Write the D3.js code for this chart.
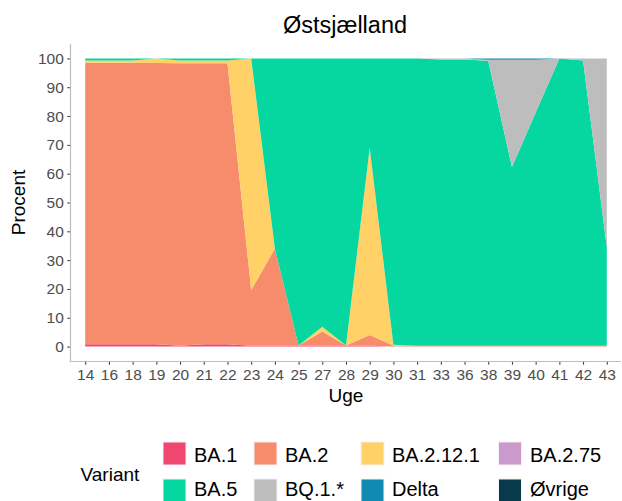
<!DOCTYPE html>
<html>
<head>
<meta charset="utf-8">
<script src="https://cdn.jsdelivr.net/npm/d3@7"></script>
<style>
  body { margin: 0; background: #fff; }
  text { font-family: "Liberation Sans", Arial, sans-serif; }
</style>
</head>
<body>
<div id="chart_variant"></div>
<script>
// week labels (x axis)
var weeks = ["14", "16", "18", "19", "20", "21", "22", "23", "24", "25", "27", "28",
    "29", "30", "31", "33", "36", "38", "39", "40", "41", "42", "43"];

// share in percent per variant, one value per week
var BA1 = [0.8, 0.8, 0.8, 0.8, 0.3, 0.8, 0.8, 0.3, 0.3, 0.3, 0.3, 0.3, 0.3, 0, 0, 0, 0, 0, 0, 0, 0, 0, 0];
var BA2 = [97.7, 97.7, 97.7, 97.6, 98.0, 97.5, 97.5, 19.3, 33.7, 0.1, 4.9, 0.1, 3.7, 0.4, 0.3, 0.3, 0.3, 0.3, 0.3, 0.3, 0.3, 0.3, 0.3];
var BA2121 = [0.8, 0.8, 0.8, 1.6, 1.0, 1.0, 1.0, 80.4, 0, 0, 1.7, 0, 65, 0.2, 0, 0, 0, 0, 0, 0, 0, 0, 0];
var BA275 = [0, 0, 0, 0, 0, 0, 0, 0, 0, 0, 0, 0, 0, 0, 0, 0, 0, 0, 0, 0, 0, 0, 0];
var BA5 = [0.7, 0.7, 0.7, 0, 0.7, 0.7, 0.7, 0, 66, 99.6, 93.1, 99.6, 31, 99.4, 99.7, 99.3, 99.3, 98.9, 62, 80.9, 99.7, 99.0, 34.3];
var BQ1 = [0, 0, 0, 0, 0, 0, 0, 0, 0, 0, 0, 0, 0, 0, 0, 0.4, 0.4, 0.3, 37.2, 18.3, 0, 0.7, 65.4];
var Delta = [0, 0, 0, 0, 0, 0, 0, 0, 0, 0, 0, 0, 0, 0, 0, 0, 0, 0.5, 0.5, 0.5, 0, 0, 0];
var Ovrige = [0, 0, 0, 0, 0, 0, 0, 0, 0, 0, 0, 0, 0, 0, 0, 0, 0, 0, 0, 0, 0, 0, 0];

var variants = ["BA.1", "BA.2", "BA.2.12.1", "BA.2.75", "BA.5", "BQ.1.*", "Delta", "Øvrige"];
var colors = ["#EF476F", "#F68C6B", "#FFD166", "#CC99CC", "#06D6A0", "#BDBDBD", "#118AB2", "#073B4C"];
var series = [BA1, BA2, BA2121, BA275, BA5, BQ1, Delta, Ovrige];

// build rows for d3.stack
var data = weeks.map(function (w, i) {
    var row = { week: w };
    variants.forEach(function (v, j) { row[v] = series[j][i]; });
    return row;
});

var W = 622, H = 501;
var panel = { left: 71, right: 621, top: 44, bottom: 361 };

var svg = d3.select("#chart_variant")
    .append("svg")
    .attr("width", W)
    .attr("height", H);

// x: discrete weeks, y: percent with 5% expansion
var x = d3.scalePoint()
    .domain(weeks)
    .range([panel.left, panel.right])
    .padding(0.6);

var y = d3.scaleLinear()
    .domain([-5, 105])
    .range([panel.bottom, panel.top]);

var stacked = d3.stack().keys(variants)(data);

var area = d3.area()
    .x(function (d) { return x(d.data.week); })
    .y0(function (d) { return y(d[0]); })
    .y1(function (d) { return y(d[1]); });

svg.append("g")
    .selectAll("path")
    .data(stacked)
    .enter()
    .append("path")
    .attr("fill", function (d, i) { return colors[i]; })
    .attr("d", area);

// axes
var gx = svg.append("g")
    .attr("transform", "translate(0," + panel.bottom + ")")
    .call(d3.axisBottom(x).tickSize(3.7).tickPadding(4).tickSizeOuter(0));
var gy = svg.append("g")
    .attr("transform", "translate(" + panel.left + ",0)")
    .call(d3.axisLeft(y).tickValues(d3.range(0, 101, 10)).tickSize(3.7).tickPadding(3.5).tickSizeOuter(0));

[gx, gy].forEach(function (g) {
    g.select(".domain").remove();
    g.selectAll(".tick line").attr("stroke", "#333333").attr("stroke-width", 1);
    g.selectAll(".tick text")
        .attr("fill", "#4D4D4D")
        .style("font-size", "15.5px")
        .style("font-family", "'Liberation Sans', Arial, sans-serif");
});

// axis lines (light grey)
svg.append("line")
    .attr("x1", panel.left).attr("x2", panel.right)
    .attr("y1", panel.bottom + 0.5).attr("y2", panel.bottom + 0.5)
    .attr("stroke", "#BEBEBE").attr("stroke-width", 1.2);
svg.append("line")
    .attr("x1", panel.left - 0.5).attr("x2", panel.left - 0.5)
    .attr("y1", panel.top).attr("y2", panel.bottom + 1)
    .attr("stroke", "#BEBEBE").attr("stroke-width", 1.2);

// titles
svg.append("text")
    .attr("x", 345).attr("y", 33)
    .attr("text-anchor", "middle")
    .style("font-size", "23.5px")
    .text("Østsjælland");

svg.append("text")
    .attr("x", (panel.left + panel.right) / 2).attr("y", 402)
    .attr("text-anchor", "middle")
    .style("font-size", "19px")
    .text("Uge");

svg.append("text")
    .attr("transform", "translate(25," + (panel.top + panel.bottom) / 2 + ") rotate(-90)")
    .attr("text-anchor", "middle")
    .style("font-size", "19px")
    .text("Procent");

// legend
var keyX = [163, 254, 361, 498.5];
var textX = [194, 285, 392, 530];
var keyY = [442, 479];
var textY = [462, 496];

svg.append("text")
    .attr("x", 80.5).attr("y", 481)
    .style("font-size", "19px")
    .text("Variant");

var leg = svg.append("g")
    .selectAll("g")
    .data(variants)
    .enter()
    .append("g");

leg.append("rect")
    .attr("x", function (d, i) { return keyX[i % 4]; })
    .attr("y", function (d, i) { return keyY[Math.floor(i / 4)]; })
    .attr("width", 23).attr("height", 23)
    .attr("fill", function (d, i) { return colors[i]; })
    .attr("stroke", "#F2F2F2")
    .attr("stroke-width", 1);

leg.append("text")
    .attr("x", function (d, i) { return textX[i % 4]; })
    .attr("y", function (d, i) { return textY[Math.floor(i / 4)]; })
    .style("font-size", "20px")
    .text(function (d) { return d; });
</script>
</body>
</html>
